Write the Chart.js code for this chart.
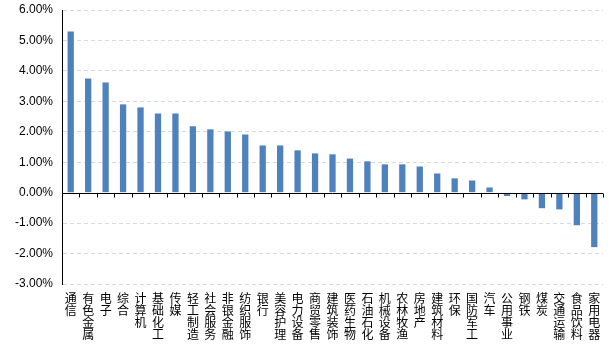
<!DOCTYPE html>
<html><head><meta charset="utf-8">
<style>html,body{margin:0;padding:0;background:#fff}#wrap{width:616px;height:352px}</style>
<script src="https://cdn.jsdelivr.net/npm/chart.js@4/dist/chart.umd.min.js"></script>
</head><body><div id="wrap"><canvas id="c" width="616" height="352"></canvas></div>
<script>
const categories = ['通信','有色金属','电子','综合','计算机','基础化工','传媒','轻工制造','社会服务','非银金融','纺织服饰','银行','美容护理','电力设备','商贸零售','建筑装饰','医药生物','石油石化','机械设备','农林牧渔','房地产','建筑材料','环保','国防军工','汽车','公用事业','钢铁','煤炭','交通运输','食品饮料','家用电器'];
const returns = [5.29,3.75,3.62,2.90,2.80,2.60,2.60,2.18,2.08,2.01,1.91,1.55,1.55,1.39,1.29,1.26,1.12,1.03,0.93,0.93,0.86,0.63,0.47,0.40,0.17,-0.11,-0.22,-0.51,-0.55,-1.07,-1.79];
const yMin = -3, yMax = 6, yStep = 1;

const zeroLine = {
  id: 'zeroLine',
  afterDatasetsDraw(chart) {
    const {ctx, chartArea, scales: {x, y}} = chart;
    const y0 = Math.round(y.getPixelForValue(0)) + 0.5;
    ctx.save();
    ctx.strokeStyle = '#000';
    ctx.lineWidth = 1;
    ctx.beginPath();
    ctx.moveTo(chartArea.left, y0);
    ctx.lineTo(chartArea.right, y0);
    const n = categories.length;
    for (let i = 0; i <= n; i++) {
      const px = Math.round(x.getPixelForValue(i - 0.5)) + 0.5;
      ctx.moveTo(px, y0);
      ctx.lineTo(px, y0 + 4);
    }
    ctx.stroke();
    ctx.restore();
  }
};

new Chart(document.getElementById('c'), {
  type: 'bar',
  data: {
    labels: categories.map(s => s.split('')),
    datasets: [{ data: returns, backgroundColor: '#4f81bd', barPercentage: 0.36, categoryPercentage: 1 }]
  },
  options: {
    responsive: false,
    animation: false,
    devicePixelRatio: 1,
    layout: { padding: { top: 10, right: 13, left: 0, bottom: 0 } },
    plugins: { legend: { display: false }, tooltip: { enabled: false } },
    scales: {
      x: {
        grid: { display: false, drawTicks: false },
        border: { display: false },
        ticks: { autoSkip: false, maxRotation: 0, minRotation: 0, padding: 9, color: '#000',
          font: { family: '"Noto Sans CJK SC", sans-serif', size: 12, lineHeight: 0.98 } },
        afterFit(s) { s.height = 68; s.paddingLeft = 0; s.paddingRight = 0; }
      },
      y: {
        min: yMin, max: yMax,
        ticks: { stepSize: yStep, color: '#000', padding: 9,
          font: { family: '"Liberation Sans", Arial, sans-serif', size: 12 },
          callback: v => v.toFixed(2) + '%' },
        grid: { color: c => (c.tick && c.tick.value === 0) ? 'rgba(0,0,0,0)' : '#d9d9d9', drawTicks: false, lineWidth: 1 },
        border: { display: true, color: '#000', width: 1, dash: [4, 3] },
        afterFit(s) { s.width = 62; s.paddingTop = 0; s.paddingBottom = 0; }
      }
    }
  },
  plugins: [zeroLine]
});
</script></body></html>
